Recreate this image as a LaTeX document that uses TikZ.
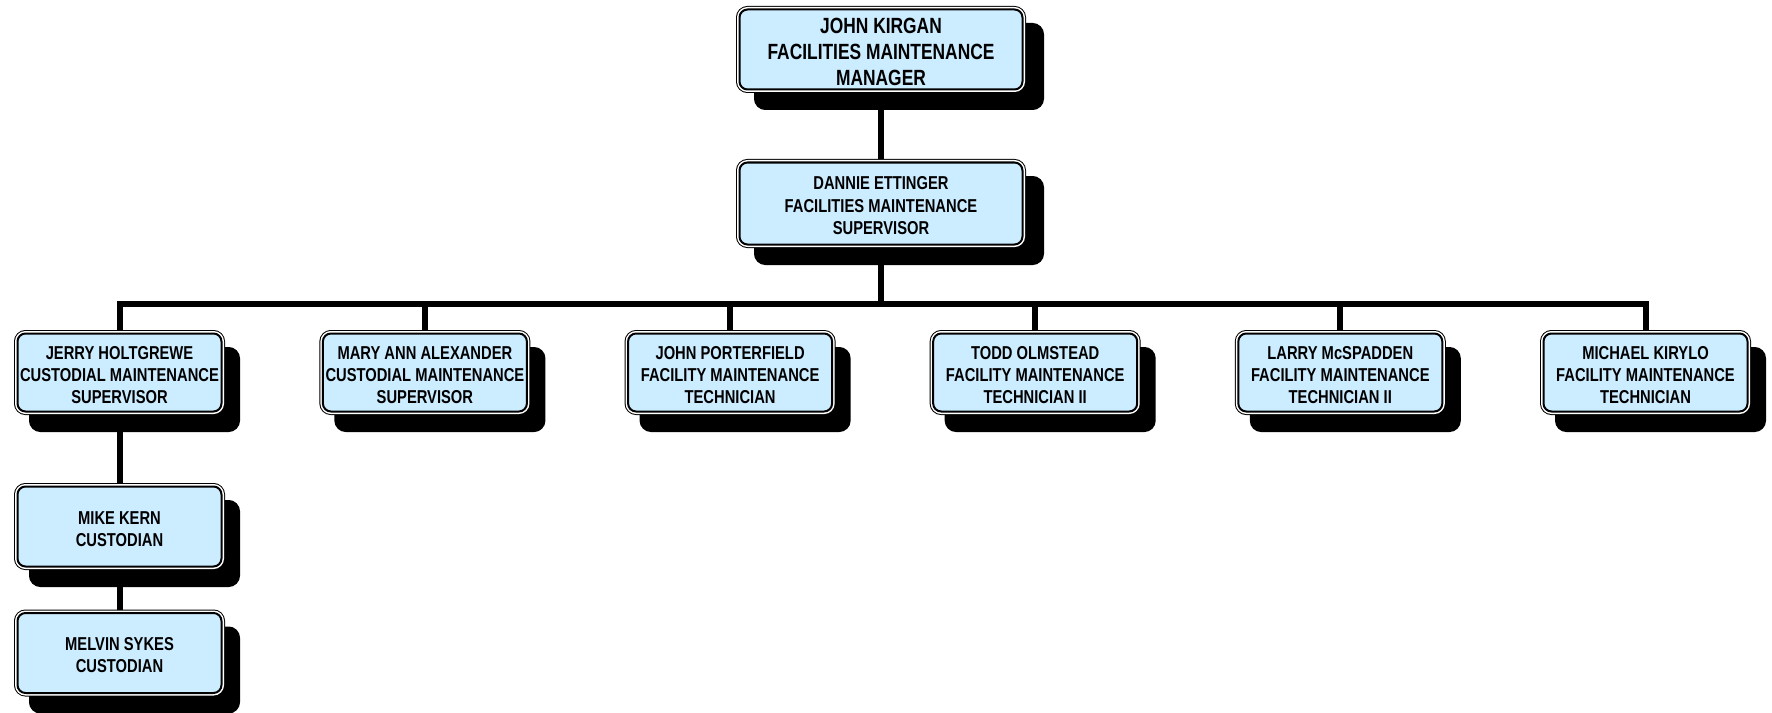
\documentclass[tikz,border=0pt]{standalone}
\usepackage{fontspec}
\setmainfont{Liberation Sans}[FakeStretch=0.79]
\usetikzlibrary{shadows,backgrounds}
\definecolor{boxblue}{RGB}{204,236,255}
% one drawing unit = one pixel of the chart (0.75pt), y grows downwards
\tikzset{
  x=0.75pt, y=-0.75pt,
  orgframe/.style={
    rectangle, rounded corners=6pt, inner sep=0pt, align=center,
    fill=boxblue, draw=black, line width=1.5pt,
    preaction={draw=black, line width=5.25pt},
    preaction={draw=white, line width=3.75pt}},
  headbox/.style={
    general shadow={fill=black, draw=black, line width=5.25pt,
      shadow xshift=13.5pt, shadow yshift=-12.75pt},
    orgframe, minimum width=212.25pt,
    font=\fontsize{16.5}{19.5}\selectfont\bfseries},
  staffbox/.style={
    general shadow={fill=black, draw=black, line width=5.25pt,
      shadow xshift=11.25pt, shadow yshift=-12.75pt},
    orgframe, minimum width=153pt, minimum height=58.5pt,
    font=\fontsize{14}{16.5}\selectfont\bfseries},
  link/.style={draw=black, line width=4.5pt}
}
% a tall strut opening the first line sets the text a little low in its box
\newcommand{\lowstrut}{\rule{0pt}{0.93em}}
\begin{document}
\begin{tikzpicture}
\useasboundingbox (0,0) rectangle (1772,713);

% manager and supervisor
\node[headbox, minimum height=60pt] (mgr) at (881,49.5)
  {\lowstrut JOHN KIRGAN\\FACILITIES MAINTENANCE\\MANAGER};
\node[headbox, minimum height=61.5pt, font=\fontsize{14}{16.8}\selectfont\bfseries] (sup) at (881,203.5)
  {\lowstrut DANNIE ETTINGER\\FACILITIES MAINTENANCE\\SUPERVISOR};

% staff row
\node[staffbox] (s1) at (119.5,372.5) {\lowstrut JERRY HOLTGREWE\\CUSTODIAL MAINTENANCE\\SUPERVISOR};
\node[staffbox] (s2) at (424.9,372.5) {\lowstrut MARY ANN ALEXANDER\\CUSTODIAL MAINTENANCE\\SUPERVISOR};
\node[staffbox] (s3) at (730.1,372.5) {\lowstrut JOHN PORTERFIELD\\FACILITY MAINTENANCE\\TECHNICIAN};
\node[staffbox] (s4) at (1035.2,372.5) {\lowstrut TODD OLMSTEAD\\FACILITY MAINTENANCE\\TECHNICIAN II};
\node[staffbox] (s5) at (1340.3,372.5) {\lowstrut LARRY McSPADDEN\\FACILITY MAINTENANCE\\TECHNICIAN II};
\node[staffbox] (s6) at (1645.5,372.5) {\lowstrut MICHAEL KIRYLO\\FACILITY MAINTENANCE\\TECHNICIAN};

% custodians
\node[staffbox, minimum height=60pt] (c1) at (119.5,526.5) {\lowstrut MIKE KERN\\CUSTODIAN};
\node[staffbox, minimum height=60pt] (c2) at (119.5,653) {\lowstrut MELVIN SYKES\\CUSTODIAN};

% connecting lines, kept behind the boxes and their shadows
\coordinate (bus) at (0,304);
\begin{pgfonlayer}{background}
  \draw[link] (mgr.south) -- (sup.north);
  \draw[link] (sup.south) -- (sup.south |- bus);
  \draw[link] (s1.north) |- (s6.north |- bus) -- (s6.north);
  \foreach \b in {s2,s3,s4,s5}
    \draw[link] (\b.north) -- (\b.north |- bus);
  \draw[link] (s1.south) -- (c1.north);
  \draw[link] (c1.south) -- (c2.north);
\end{pgfonlayer}
\end{tikzpicture}
\end{document}
